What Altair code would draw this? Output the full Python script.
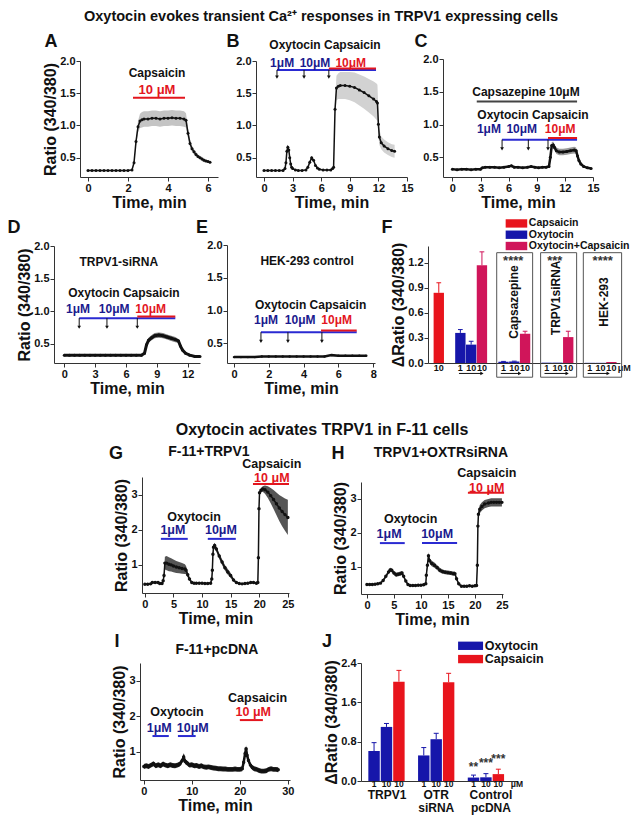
import altair as alt
import pandas as pd

FONT = "Liberation Sans"
INK = "#111111"
RED = "#e3161e"
BLUE_LINE = "#2a2ad2"
BLUE_TXT = "#1a1a8e"
BAR_RED = "#e8141c"
BAR_BLUE = "#1616aa"
BAR_CRIMSON = "#d0155a"
CW, CH = 626, 807  # whole drawing, pixels

# ---------------- Panel A ----------------
a_t = [0.0, 0.2, 0.4, 0.6, 0.8, 1.0, 1.2, 1.4, 1.6, 1.8, 2.0, 2.2,
       2.3, 2.4, 2.5, 2.6, 2.7, 2.8,
       3.0, 3.2, 3.4, 3.6, 3.8, 4.0, 4.2, 4.4, 4.6, 4.8,
       4.9, 5.0, 5.1, 5.2, 5.3, 5.4, 5.5, 5.6, 5.7, 5.8, 5.9, 6.0, 6.1]
a_v = [0.30, 0.30, 0.30, 0.30, 0.30, 0.30, 0.30, 0.30, 0.30, 0.30, 0.30, 0.31,
       0.42, 0.75, 0.98, 1.07, 1.09, 1.10,
       1.10, 1.11, 1.11, 1.10, 1.11, 1.11, 1.12, 1.11, 1.11, 1.10,
       1.08, 0.88, 0.72, 0.64, 0.59, 0.55, 0.52, 0.50, 0.48, 0.46, 0.45, 0.44, 0.43]
a_e = [0.01, 0.01, 0.01, 0.01, 0.01, 0.01, 0.01, 0.01, 0.01, 0.01, 0.01, 0.01,
       0.03, 0.06, 0.09, 0.11, 0.12, 0.12,
       0.12, 0.12, 0.12, 0.12, 0.12, 0.12, 0.12, 0.12, 0.12, 0.12,
       0.11, 0.08, 0.06, 0.05, 0.04, 0.04, 0.03, 0.03, 0.03, 0.03, 0.02, 0.02, 0.02]

# ---------------- Panel B ----------------
b_t = [0.0, 0.4, 0.8, 1.2, 1.6, 2.0,
       2.2, 2.3, 2.4, 2.5, 2.6, 2.7, 2.8, 2.9, 3.0,
       3.3, 3.6, 4.0, 4.4, 4.6, 4.8, 5.0, 5.2, 5.4, 5.6, 5.8, 6.2, 6.6, 7.0, 7.2, 7.3,
       7.45, 7.6, 7.8, 8.0, 8.5, 9.0, 9.5, 10.0, 10.5, 11.0, 11.5, 11.8, 11.9,
       12.0, 12.1, 12.3, 12.6, 13.0, 13.4, 13.7]
b_v = [0.30, 0.30, 0.30, 0.30, 0.30, 0.30,
       0.33, 0.42, 0.60, 0.66, 0.62, 0.50, 0.40, 0.35, 0.33,
       0.31, 0.30, 0.30, 0.31, 0.35, 0.43, 0.50, 0.46, 0.38, 0.34, 0.32, 0.31, 0.31, 0.31, 0.33, 0.35,
       1.25, 1.58, 1.61, 1.62, 1.62, 1.61, 1.59, 1.55, 1.51, 1.46, 1.41, 1.37, 1.35,
       1.02, 0.82, 0.73, 0.68, 0.64, 0.61, 0.60]
b_e = [0.01, 0.01, 0.01, 0.01, 0.01, 0.01,
       0.01, 0.03, 0.05, 0.05, 0.05, 0.04, 0.03, 0.02, 0.01,
       0.01, 0.01, 0.01, 0.01, 0.02, 0.03, 0.03, 0.03, 0.02, 0.01, 0.01, 0.01, 0.01, 0.01, 0.02, 0.02,
       0.10, 0.19, 0.20, 0.21, 0.21, 0.22, 0.23, 0.24, 0.25, 0.26, 0.27, 0.28, 0.28,
       0.20, 0.12, 0.10, 0.10, 0.10, 0.10, 0.10]

# ---------------- Panel C ----------------
c_t = [0.0, 0.5, 1.0, 1.5, 2.0, 2.5, 3.0,
       3.2, 3.5, 4.0, 4.5, 5.0, 5.5, 6.0, 6.3, 6.6, 7.0, 7.5, 8.0, 8.4, 8.8, 9.2, 9.6, 10.0, 10.3,
       10.45, 10.6, 10.75, 10.9, 11.1, 11.4, 11.8, 12.2, 12.6, 13.0, 13.2, 13.35, 13.5, 13.7, 14.0, 14.4, 14.8]
c_v = [0.32, 0.31, 0.32, 0.32, 0.31, 0.32, 0.32,
       0.34, 0.35, 0.35, 0.35, 0.34, 0.35, 0.36, 0.37, 0.35, 0.35, 0.34, 0.35, 0.36, 0.35, 0.34, 0.35, 0.35, 0.36,
       0.50, 0.68, 0.69, 0.65, 0.60, 0.58, 0.58, 0.59, 0.60, 0.61, 0.60, 0.52, 0.45, 0.40, 0.36, 0.34, 0.33]
c_e = [0.01, 0.01, 0.01, 0.01, 0.01, 0.01, 0.01,
       0.01, 0.01, 0.01, 0.01, 0.01, 0.01, 0.01, 0.01, 0.01, 0.01, 0.01, 0.01, 0.01, 0.01, 0.01, 0.01, 0.01, 0.01,
       0.04, 0.05, 0.05, 0.05, 0.05, 0.05, 0.05, 0.05, 0.05, 0.05, 0.05, 0.04, 0.03, 0.02, 0.02, 0.01, 0.01]

# ---------------- Panel D ----------------
d_t = [0.0, 0.5, 1.0, 1.5, 2.0, 2.5, 3.0, 3.5, 4.0, 4.5, 5.0, 5.5, 6.0, 6.5, 7.0, 7.5,
       7.8, 8.0, 8.2, 8.5, 8.8, 9.2, 9.6, 10.0, 10.4, 10.8, 11.1, 11.3, 11.5, 11.8, 12.2, 12.7, 13.2]
d_v = [0.32, 0.32, 0.32, 0.32, 0.32, 0.32, 0.32, 0.32, 0.32, 0.32, 0.32, 0.32, 0.32, 0.32, 0.32, 0.32,
       0.35, 0.48, 0.55, 0.59, 0.62, 0.63, 0.62, 0.60, 0.58, 0.56, 0.54, 0.46, 0.40, 0.35, 0.32, 0.30, 0.30]
d_e = [0.005, 0.005, 0.005, 0.005, 0.005, 0.005, 0.005, 0.005, 0.005, 0.005, 0.005, 0.005, 0.005, 0.005, 0.005, 0.005,
       0.01, 0.03, 0.04, 0.04, 0.04, 0.04, 0.04, 0.04, 0.04, 0.04, 0.03, 0.03, 0.02, 0.01, 0.01, 0.005, 0.005]

# ---------------- Panel E ----------------
e_t = [0.0, 0.4, 0.8, 1.2, 1.6, 2.0, 2.4, 2.8, 3.2, 3.6, 4.0, 4.4, 4.8, 5.2, 5.6, 6.0, 6.4, 6.8, 7.2, 7.6]
e_v = [0.29, 0.29, 0.29, 0.29, 0.30, 0.30, 0.30, 0.30, 0.30, 0.30, 0.30, 0.30, 0.30, 0.30, 0.32, 0.31, 0.31, 0.31, 0.31, 0.31]
e_e = [0.005, 0.005, 0.005, 0.005, 0.005, 0.005, 0.005, 0.005, 0.005, 0.005,
       0.005, 0.005, 0.005, 0.005, 0.005, 0.005, 0.005, 0.005, 0.005, 0.005]

# ---------------- Panel G ----------------
g_t = [0.0, 0.5, 1.0, 1.3, 1.8, 2.3, 2.6, 3.0, 3.2, 3.35,
       3.5, 3.8, 4.2, 4.6, 5.0, 5.5, 6.0, 6.5, 7.0, 7.2,
       7.5, 7.8, 8.2, 8.6, 9.0, 9.5, 10.0, 10.5, 11.0, 11.5,
       11.7, 11.8, 11.9, 12.0, 12.2, 12.5, 13.0, 13.5, 14.0, 14.5,
       15.0, 15.5, 16.0, 16.5, 17.0, 17.5, 18.0, 18.5, 19.0, 19.5,
       19.75, 19.85, 19.95, 20.05, 20.3, 20.6, 21.0, 21.5, 22.0, 22.5,
       23.0, 23.5, 24.0, 24.5, 25.0]
g_v = [0.45, 0.45, 0.46, 0.50, 0.50, 0.50, 0.47, 0.47, 0.55, 0.70,
       1.05, 1.05, 1.02, 1.00, 0.97, 0.94, 0.92, 0.90, 0.88, 0.85,
       0.72, 0.60, 0.50, 0.48, 0.48, 0.48, 0.48, 0.47, 0.47, 0.48,
       0.60, 0.85, 1.30, 1.50, 1.55, 1.45, 1.25, 1.08, 0.92, 0.80,
       0.70, 0.57, 0.50, 0.47, 0.46, 0.47, 0.48, 0.50, 0.50, 0.48,
       0.50, 1.20, 2.60, 3.05, 3.12, 3.16, 3.14, 3.07, 2.97, 2.86,
       2.74, 2.62, 2.52, 2.43, 2.35]
g_e = [0.02, 0.02, 0.02, 0.02, 0.02, 0.02, 0.02, 0.02, 0.05, 0.10,
       0.18, 0.20, 0.20, 0.19, 0.18, 0.17, 0.16, 0.15, 0.14, 0.12,
       0.08, 0.05, 0.03, 0.02, 0.02, 0.02, 0.02, 0.02, 0.02, 0.02,
       0.05, 0.08, 0.08, 0.08, 0.08, 0.08, 0.08, 0.08, 0.08, 0.08,
       0.07, 0.05, 0.03, 0.02, 0.02, 0.02, 0.02, 0.02, 0.02, 0.02,
       0.02, 0.05, 0.06, 0.06, 0.06, 0.08, 0.12, 0.17, 0.22, 0.27,
       0.32, 0.37, 0.42, 0.46, 0.50]

# ---------------- Panel H ----------------
h_t = [0.0, 0.5, 1.0, 1.5, 2.0, 2.5, 3.0, 3.5, 4.0, 4.3,
       4.6, 5.0, 5.4, 5.8, 6.2, 6.5, 6.8, 7.2, 7.6, 8.0,
       8.5, 9.0, 9.5, 10.0, 10.5, 10.9, 11.0, 11.2, 11.4, 11.6,
       12.0, 12.5, 13.0, 13.5, 14.0, 14.5, 15.0, 15.5, 16.0, 16.3,
       16.6, 17.0, 17.5, 18.0, 18.5, 19.0, 19.5, 20.0, 20.3, 20.45,
       20.55, 20.65, 20.9, 21.3, 21.8, 22.5, 23.0, 23.5, 24.0, 24.5,
       25.0]
h_v = [0.48, 0.48, 0.48, 0.49, 0.50, 0.52, 0.60, 0.72, 0.85, 0.91,
       0.90, 0.82, 0.77, 0.78, 0.80, 0.82, 0.72, 0.58, 0.48, 0.45,
       0.45, 0.45, 0.46, 0.46, 0.47, 0.50, 0.75, 1.05, 1.33, 1.18,
       1.10, 1.05, 0.98, 0.90, 0.86, 0.84, 0.83, 0.82, 0.80, 0.80,
       0.65, 0.50, 0.43, 0.43, 0.43, 0.44, 0.43, 0.44, 0.45, 1.05,
       2.20, 2.55, 2.70, 2.78, 2.85, 2.88, 2.90, 2.90, 2.90, 2.90,
       2.90]
h_e = [0.02, 0.02, 0.02, 0.02, 0.02, 0.02, 0.04, 0.05, 0.06, 0.06,
       0.06, 0.06, 0.06, 0.06, 0.06, 0.06, 0.05, 0.04, 0.03, 0.02,
       0.02, 0.02, 0.02, 0.02, 0.02, 0.03, 0.05, 0.08, 0.10, 0.08,
       0.08, 0.08, 0.07, 0.07, 0.06, 0.06, 0.06, 0.06, 0.06, 0.06,
       0.05, 0.04, 0.03, 0.03, 0.03, 0.03, 0.03, 0.03, 0.03, 0.05,
       0.10, 0.12, 0.12, 0.12, 0.12, 0.12, 0.12, 0.12, 0.12, 0.12,
       0.12]

# ---------------- Panel I ----------------
i_t = [0.0, 0.5, 1.0, 1.5, 2.0, 2.5, 3.0, 3.5, 4.0, 4.5,
       5.0, 5.5, 6.0, 6.5, 7.0, 7.5, 8.0, 8.3, 8.6, 9.0,
       9.5, 10.0, 10.5, 11.0, 11.5, 12.0, 12.5, 13.0, 13.5, 14.0,
       14.5, 15.0, 15.5, 16.0, 16.5, 17.0, 17.5, 18.0, 18.5, 19.0,
       19.5, 20.0, 20.5, 20.8, 21.1, 21.3, 21.5, 21.8, 22.2, 22.6,
       23.0, 23.5, 24.0, 24.5, 25.0, 25.5, 26.0, 26.5, 27.0, 27.5,
       28.0]
i_v = [0.58, 0.60, 0.58, 0.62, 0.66, 0.60, 0.63, 0.60, 0.65, 0.62,
       0.60, 0.63, 0.61, 0.60, 0.62, 0.65, 0.75, 0.85, 0.72, 0.68,
       0.62, 0.63, 0.60, 0.61, 0.58, 0.60, 0.57, 0.56, 0.57, 0.55,
       0.54, 0.53, 0.52, 0.52, 0.51, 0.51, 0.50, 0.50, 0.50, 0.51,
       0.50, 0.50, 0.52, 0.70, 0.95, 1.08, 0.90, 0.75, 0.62, 0.55,
       0.52, 0.50, 0.47, 0.45, 0.45, 0.46, 0.50, 0.52, 0.50, 0.50,
       0.49]
i_e = [0.07, 0.07, 0.07, 0.07, 0.07, 0.07, 0.07, 0.07, 0.07, 0.07,
       0.07, 0.07, 0.07, 0.07, 0.07, 0.07, 0.07, 0.07, 0.07, 0.07,
       0.07, 0.07, 0.07, 0.07, 0.07, 0.07, 0.07, 0.07, 0.07, 0.07,
       0.07, 0.07, 0.07, 0.07, 0.07, 0.07, 0.07, 0.07, 0.07, 0.07,
       0.07, 0.07, 0.07, 0.07, 0.08, 0.09, 0.08, 0.07, 0.07, 0.07,
       0.07, 0.07, 0.07, 0.07, 0.07, 0.07, 0.07, 0.07, 0.07, 0.07,
       0.07]

# ---------------- Panel F (bars) ----------------
f_pos = [0, 2, 3, 4, 6, 7, 8, 10, 11, 12, 14, 15, 16]
f_val = [0.84, 0.36, 0.22, 1.17, 0.015, 0.018, 0.35, 0.004, 0.004, 0.31, 0.002, 0.002, 0.012]
f_err = [0.12, 0.04, 0.04, 0.16, 0.004, 0.004, 0.03, 0.0, 0.0, 0.07, 0.0, 0.0, 0.0]
f_grp = ["Capsaicin", "Oxytocin", "Oxytocin", "Oxytocin+Capsaicin",
         "Oxytocin", "Oxytocin", "Oxytocin+Capsaicin",
         "Oxytocin", "Oxytocin", "Oxytocin+Capsaicin",
         "Oxytocin", "Oxytocin", "Oxytocin+Capsaicin"]
f_dose = ["10", "1", "10", "10", "1", "10", "10", "1", "10", "10", "1", "10", "10"]
f_legend = ["Capsaicin", "Oxytocin", "Oxytocin+Capsaicin"]
f_box_names = ["Capsazepine", "TRPV1siRNA", "HEK-293"]
f_box_stars = ["****", "***", "****"]

# ---------------- Panel J (bars) ----------------
j_pos = [0, 1, 2, 4, 5, 6, 8, 9, 10]
j_val = [0.61, 1.10, 2.02, 0.52, 0.85, 2.01, 0.07, 0.075, 0.14]
j_err = [0.17, 0.07, 0.23, 0.16, 0.12, 0.18, 0.05, 0.075, 0.10]
j_grp = ["Oxytocin", "Oxytocin", "Capsaicin", "Oxytocin", "Oxytocin", "Capsaicin",
         "Oxytocin", "Oxytocin", "Capsaicin"]
j_dose = ["1", "10", "10", "1", "10", "10", "1", "10", "10"]
j_stars = ["**", "***", "***"]
j_groups = [["TRPV1"], ["OTR", "siRNA"], ["Control", "pcDNA"]]
j_legend = ["Oxytocin", "Capsaicin"]

GROUP_COLOR = {"Capsaicin": BAR_RED, "Oxytocin": BAR_BLUE, "Oxytocin+Capsaicin": BAR_CRIMSON}


def frame(rows, cols):
    return pd.DataFrame(rows, columns=cols)


def scales(xdom, ydom, xr, yr):
    xs = alt.Scale(domain=xdom, range=xr, nice=False, zero=False)
    ys = alt.Scale(domain=ydom, range=yr, nice=False, zero=False)
    return xs, ys


def trace_panel(t, v, e, xdom, ydom, xr, yr, xticks, yticks, yfmt, ytitle,
                band, lw, ps, texts, bars, arrows):
    df = frame([(a, b, b - c, b + c) for a, b, c in zip(t, v, e)], ["t", "v", "lo", "hi"])
    xs, ys = scales(xdom, ydom, xr, yr)
    xax = alt.Axis(values=xticks, title="Time, min", format="d", orient="bottom", offset=yr[0] - CH)
    yax = alt.Axis(values=yticks, format=yfmt, title=ytitle, orient="left", offset=-xr[0])

    def X(f):
        return alt.X(f, type="quantitative", scale=xs, axis=xax)

    def Y(f):
        return alt.Y(f, type="quantitative", scale=ys, axis=yax)

    layers = [
        alt.Chart(df).mark_area(color=band, opacity=1).encode(x=X("t"), y=Y("lo"), y2=alt.Y2("hi")),
        alt.Chart(df).mark_line(color=INK, strokeWidth=lw).encode(x=X("t"), y=Y("v")),
        alt.Chart(df).mark_circle(color=INK, opacity=1, size=ps).encode(x=X("t"), y=Y("v")),
    ]
    bdf = frame(bars, ["x1", "x2", "y", "color"])
    layers.append(alt.Chart(bdf).mark_rule(strokeWidth=2).encode(
        x=X("x1"), x2=alt.X2("x2"), y=Y("y"), color=alt.Color("color:N", scale=None)))
    if arrows:
        adf = frame(arrows, ["x", "y1", "y2"])
        layers.append(alt.Chart(adf).mark_rule(color=INK, strokeWidth=1).encode(
            x=X("x"), y=Y("y1"), y2=alt.Y2("y2")))
        layers.append(alt.Chart(adf).mark_point(shape="triangle-down", filled=True, color=INK,
                                                size=14, opacity=1).encode(x=X("x"), y=Y("y2")))
    tdf = frame(texts, ["label", "x", "y", "color", "size"])
    layers.append(alt.Chart(tdf).mark_text(font=FONT, fontWeight="bold", baseline="middle").encode(
        x=X("x"), y=Y("y"), text="label:N", color=alt.Color("color:N", scale=None),
        size=alt.Size("size:Q", scale=None)))
    return alt.layer(*layers)


# ---------------- trace panels (pixel ranges inside the drawing) ----------------
A = trace_panel(a_t, a_v, a_e, [-0.4, 6.5], [0.2, 2.0], [72, 210], [169, 53], [0, 2, 4, 6],
                [0.5, 1.0, 1.5, 2.0], ".1f", "Ratio (340/380)", "#c4c4c4", 1.5, 9,
                [("Capsaicin", 3.45, 1.81, INK, 12), ("10 μM", 3.45, 1.55, RED, 13)],
                [(2.25, 4.85, 1.43, RED)], [])
B = trace_panel(b_t, b_v, b_e, [-0.84, 15], [0.2, 2.0], [248, 399], [169, 53], [0, 3, 6, 9, 12, 15],
                [0.5, 1.0, 1.5, 2.0], ".1f", None, "#d2d2d2", 1.5, 9,
                [("Oxytocin Capsaicin", 6.4, 2.25, INK, 12), ("1μM", 1.9, 1.97, BLUE_TXT, 12),
                 ("10μM", 5.35, 1.97, BLUE_TXT, 12), ("10μM", 9.1, 1.97, RED, 12)],
                [(1.36, 11.75, 1.86, BLUE_LINE), (6.8, 11.75, 1.885, RED)],
                [(1.36, 1.86, 1.75), (4.2, 1.86, 1.75), (6.8, 1.86, 1.75)])
C = trace_panel(c_t, c_v, c_e, [-1, 15], [0.2, 2.0], [435, 585], [169, 51], [0, 3, 6, 9, 12, 15],
                [0.5, 1.0, 1.5, 2.0], ".1f", None, "#9a9a9a", 2.5, 9,
                [("Capsazepine 10μM", 7.85, 1.50, INK, 12), ("Oxytocin Capsaicin", 8.6, 1.15, INK, 12),
                 ("1μM", 3.9, 0.93, BLUE_TXT, 12), ("10μM", 7.4, 0.93, BLUE_TXT, 12), ("10μM", 11.5, 0.93, RED, 12)],
                [(2.6, 13.3, 1.35, "#444444"), (5.3, 13.3, 0.77, BLUE_LINE), (10.2, 13.3, 0.795, RED)],
                [(5.3, 0.77, 0.63), (8.1, 0.77, 0.63), (10.2, 0.77, 0.63)])
D = trace_panel(d_t, d_v, d_e, [-1, 13.2], [0.2, 2.0], [46, 192], [355, 238], [0, 3, 6, 9, 12],
                [0.5, 1.0, 1.5, 2.0], ".1f", "Ratio (340/380)", "#7a7a7a", 3, 9,
                [("TRPV1-siRNA", 5.3, 1.75, INK, 12), ("Oxytocin Capsaicin", 5.8, 1.28, INK, 12),
                 ("1μM", 1.33, 1.03, BLUE_TXT, 12), ("10μM", 4.85, 1.03, BLUE_TXT, 12), ("10μM", 8.4, 1.03, RED, 12)],
                [(1.45, 10.8, 0.89, BLUE_LINE), (7.1, 10.8, 0.915, RED)],
                [(1.45, 0.89, 0.75), (4.15, 0.89, 0.75), (7.1, 0.89, 0.75)])
E = trace_panel(e_t, e_v, e_e, [-0.4, 8.1], [0.2, 2.0], [219, 367], [355, 237], [0, 2, 4, 6, 8],
                [0.5, 1.0, 1.5, 2.0], ".1f", None, "#7a7a7a", 2.5, 6,
                [("HEK-293 control", 4.2, 1.75, INK, 12), ("Oxytocin Capsaicin", 4.4, 1.08, INK, 12),
                 ("1μM", 1.84, 0.86, BLUE_TXT, 12), ("10μM", 3.8, 0.86, BLUE_TXT, 12), ("10μM", 5.9, 0.86, RED, 12)],
                [(1.55, 7.05, 0.67, BLUE_LINE), (5.0, 7.05, 0.695, RED)],
                [(1.55, 0.67, 0.53), (3.1, 0.67, 0.53), (5.05, 0.67, 0.53)])
G = trace_panel(g_t, g_v, g_e, [-0.5, 25.2], [0.2, 3.5], [134, 281], [585, 469], [0, 5, 10, 15, 20, 25],
                [1, 2, 3], "d", "Ratio (340/380)", "#555555", 1.5, 12,
                [("F-11+TRPV1", 11.2, 4.21, INK, 14), ("Capsaicin", 22.2, 3.86, INK, 12.5),
                 ("10 μM", 22.2, 3.47, RED, 12.5), ("Oxytocin", 8.6, 2.37, INK, 12.5),
                 ("1μM", 4.9, 1.99, BLUE_TXT, 12.5), ("10μM", 13.3, 1.99, BLUE_TXT, 12.5)],
                [(18.9, 25.2, 3.30, RED), (2.8, 7.5, 1.74, BLUE_LINE), (11.0, 15.9, 1.74, BLUE_LINE)], [])
H = trace_panel(h_t, h_v, h_e, [-1.1, 25.2], [0.2, 3.5], [353, 495], [586, 474], [0, 5, 10, 15, 20, 25],
                [1, 2, 3], "d", "Ratio (340/380)", "#555555", 1.5, 12,
                [("TRPV1+OXTRsiRNA", 13.7, 4.36, INK, 14), ("Capsaicin", 22.2, 3.77, INK, 12.5),
                 ("10 μM", 22.2, 3.32, RED, 12.5), ("Oxytocin", 8.1, 2.42, INK, 12.5),
                 ("1μM", 4.1, 1.97, BLUE_TXT, 12.5), ("10μM", 13.0, 1.97, BLUE_TXT, 12.5)],
                [(18.7, 25.4, 3.18, RED), (2.4, 7.0, 1.70, BLUE_LINE), (10.2, 16.7, 1.70, BLUE_LINE)], [])
I = trace_panel(i_t, i_v, i_e, [-0.8, 30.45], [0.2, 3.5], [132, 282], [772, 655], [0, 10, 20, 30],
                [1, 2, 3], "d", "Ratio (340/380)", "#222222", 2.5, 12,
                [("F-11+pcDNA", 15.2, 3.87, INK, 14), ("Capsaicin", 23.7, 2.52, INK, 12.5),
                 ("10 μM", 22.8, 2.13, RED, 12.5), ("Oxytocin", 6.9, 2.12, INK, 12.5),
                 ("1μM", 3.2, 1.68, BLUE_TXT, 12.5), ("10μM", 10.2, 1.68, BLUE_TXT, 12.5)],
                [(20.0, 24.8, 1.89, RED), (1.8, 5.2, 1.44, BLUE_LINE), (7.1, 10.8, 1.44, BLUE_LINE)], [])

# ---------------- Panel F ----------------
F_XR, F_YR = [420, 612], [355, 238]
fxs, fys = scales([-1, 16.8], [0, 1.4], F_XR, F_YR)
fxa = alt.Axis(labels=False, ticks=False, title=None, orient="bottom", offset=F_YR[0] - CH)
fya = alt.Axis(values=[0, 0.3, 0.6, 0.9, 1.2], format=".1f", title="ΔRatio (340/380)",
               orient="left", offset=-F_XR[0])


def FX(f):
    return alt.X(f, type="quantitative", scale=fxs, axis=fxa)


def FY(f):
    return alt.Y(f, type="quantitative", scale=fys, axis=fya)


fdf = frame([(p, v, e, g, d) for p, v, e, g, d in zip(f_pos, f_val, f_err, f_grp, f_dose)],
            ["pos", "val", "err", "grp", "dose"])
fdf["x1"] = fdf["pos"] - 0.48
fdf["x2"] = fdf["pos"] + 0.48
fdf["c1"] = fdf["pos"] - 0.22
fdf["c2"] = fdf["pos"] + 0.22
fdf["top"] = fdf["val"] + fdf["err"]
fdf["zero"] = 0.0
fdf["ly"] = -0.055
fdf["color"] = fdf["grp"].map(GROUP_COLOR)
ferr = fdf[fdf["err"] > 0]

fbox = frame([(5.37, 8.7, f_box_names[0], f_box_stars[0], 6.95, 0.73, 6.9),
              (9.44, 12.78, f_box_names[1], f_box_stars[1], 10.9, 0.78, 10.75),
              (13.4, 16.95, f_box_names[2], f_box_stars[2], 15.3, 0.73, 15.2)],
             ["x1", "x2", "name", "stars", "lx", "ly", "sx"])
fbox["y1"] = -0.17
fbox["y2"] = 1.32
fbox["sy"] = 1.22
farr = frame([(1.87, 4.0), (5.75, 7.5), (9.8, 11.9), (13.8, 15.7)], ["a1", "a2"])
farr["y"] = -0.125
fleg = frame([(name, GROUP_COLOR[name], yy) for name, yy in zip(f_legend, [1.67, 1.535, 1.40])],
             ["name", "color", "y"])
fleg["s1"] = 6.2
fleg["s2"] = 8.2
fleg["ya"] = fleg["y"] - 0.05
fleg["yb"] = fleg["y"] + 0.05
fleg["tx"] = 8.35
funit = frame([("μM", 16.6, -0.055)], ["t", "x", "y"])

F = alt.layer(
    alt.Chart(fdf).mark_rect().encode(x=FX("x1"), x2=alt.X2("x2"), y=FY("zero"), y2=alt.Y2("val"),
                                      color=alt.Color("color:N", scale=None)),
    alt.Chart(ferr).mark_rule(strokeWidth=1).encode(x=FX("pos"), y=FY("val"), y2=alt.Y2("top"),
                                                    color=alt.Color("color:N", scale=None)),
    alt.Chart(ferr).mark_rule(strokeWidth=1).encode(x=FX("c1"), x2=alt.X2("c2"), y=FY("top"),
                                                    color=alt.Color("color:N", scale=None)),
    alt.Chart(fdf).mark_text(font=FONT, fontWeight="bold", fontSize=9, color=INK).encode(
        x=FX("pos"), y=FY("ly"), text="dose:N"),
    alt.Chart(funit).mark_text(font=FONT, fontWeight="bold", fontSize=9, color=INK, align="left").encode(
        x=FX("x"), y=FY("y"), text="t:N"),
    alt.Chart(fbox).mark_rect(fill="white", fillOpacity=0, stroke="#555555", strokeWidth=1).encode(
        x=FX("x1"), x2=alt.X2("x2"), y=FY("y1"), y2=alt.Y2("y2")),
    alt.Chart(fbox).mark_text(font=FONT, fontWeight="bold", fontSize=12, angle=270, color=INK).encode(
        x=FX("lx"), y=FY("ly"), text="name:N"),
    alt.Chart(fbox).mark_text(font=FONT, fontWeight="bold", fontSize=13, color="#333333").encode(
        x=FX("sx"), y=FY("sy"), text="stars:N"),
    alt.Chart(farr).mark_rule(strokeWidth=1, color=INK).encode(x=FX("a1"), x2=alt.X2("a2"), y=FY("y")),
    alt.Chart(farr).mark_point(shape="triangle-right", filled=True, size=14, opacity=1, color=INK).encode(
        x=FX("a2"), y=FY("y")),
    alt.Chart(fleg).mark_rect().encode(x=FX("s1"), x2=alt.X2("s2"), y=FY("ya"), y2=alt.Y2("yb"),
                                       color=alt.Color("color:N", scale=None)),
    alt.Chart(fleg).mark_text(font=FONT, fontWeight="bold", fontSize=10.5, color=INK, align="left").encode(
        x=FX("tx"), y=FY("y"), text="name:N"),
)

# ---------------- Panel J ----------------
J_XR, J_YR = [353, 509], [773, 655]
jxs, jys = scales([-1.05, 11.5], [0, 2.4], J_XR, J_YR)
jxa = alt.Axis(labels=False, ticks=False, title=None, orient="bottom", offset=J_YR[0] - CH)
jya = alt.Axis(values=[0, 0.8, 1.6, 2.4], format=".1f", title="ΔRatio (340/380)",
               orient="left", offset=-J_XR[0])


def JX(f):
    return alt.X(f, type="quantitative", scale=jxs, axis=jxa)


def JY(f):
    return alt.Y(f, type="quantitative", scale=jys, axis=jya)


jdf = frame([(p, v, e, g, d) for p, v, e, g, d in zip(j_pos, j_val, j_err, j_grp, j_dose)],
            ["pos", "val", "err", "grp", "dose"])
jdf["x1"] = jdf["pos"] - 0.46
jdf["x2"] = jdf["pos"] + 0.46
jdf["c1"] = jdf["pos"] - 0.2
jdf["c2"] = jdf["pos"] + 0.2
jdf["top"] = jdf["val"] + jdf["err"]
jdf["zero"] = 0.0
jdf["ly"] = -0.055
jdf["color"] = jdf["grp"].map(GROUP_COLOR)
jstar = frame([(s, x, y) for s, x, y in zip(j_stars, [8.0, 9.0, 10.0], [0.29, 0.36, 0.45])], ["s", "x", "y"])
jlab = frame([(lines[0], x, -0.29) for lines, x in zip(j_groups, [1.05, 5.0, 9.4])] +
             [(lines[1], x, -0.54) for lines, x in zip(j_groups, [1.05, 5.0, 9.4]) if len(lines) > 1],
             ["t", "x", "y"])
jleg = frame([(name, GROUP_COLOR[name], yy) for name, yy in zip(j_legend, [2.75, 2.48])], ["name", "color", "y"])
jleg["s1"] = 6.76
jleg["s2"] = 8.77
jleg["ya"] = jleg["y"] - 0.085
jleg["yb"] = jleg["y"] + 0.085
jleg["tx"] = 8.9
junit = frame([("μM", 11.0, -0.055)], ["t", "x", "y"])

J = alt.layer(
    alt.Chart(jdf).mark_rect().encode(x=JX("x1"), x2=alt.X2("x2"), y=JY("zero"), y2=alt.Y2("val"),
                                      color=alt.Color("color:N", scale=None)),
    alt.Chart(jdf).mark_rule(strokeWidth=1).encode(x=JX("pos"), y=JY("val"), y2=alt.Y2("top"),
                                                   color=alt.Color("color:N", scale=None)),
    alt.Chart(jdf).mark_rule(strokeWidth=1).encode(x=JX("c1"), x2=alt.X2("c2"), y=JY("top"),
                                                   color=alt.Color("color:N", scale=None)),
    alt.Chart(jdf).mark_text(font=FONT, fontWeight="bold", fontSize=8.5, color=INK).encode(
        x=JX("pos"), y=JY("ly"), text="dose:N"),
    alt.Chart(junit).mark_text(font=FONT, fontWeight="bold", fontSize=8.5, color=INK, align="left").encode(
        x=JX("x"), y=JY("y"), text="t:N"),
    alt.Chart(jstar).mark_text(font=FONT, fontWeight="bold", fontSize=12, color="#333333").encode(
        x=JX("x"), y=JY("y"), text="s:N"),
    alt.Chart(jlab).mark_text(font=FONT, fontWeight="bold", fontSize=12, color=INK).encode(
        x=JX("x"), y=JY("y"), text="t:N"),
    alt.Chart(jleg).mark_rect().encode(x=JX("s1"), x2=alt.X2("s2"), y=JY("ya"), y2=alt.Y2("yb"),
                                       color=alt.Color("color:N", scale=None)),
    alt.Chart(jleg).mark_text(font=FONT, fontWeight="bold", fontSize=12.5, color=INK, align="left").encode(
        x=JX("tx"), y=JY("y"), text="name:N"),
)

# ---------------- titles and panel letters (page layout, pixels) ----------------
labels = frame([
    ("Oxytocin evokes transient Ca²⁺ responses in TRPV1 expressing cells", 313, 9, 14.5),
    ("A", 43, 34, 18), ("B", 225, 34, 18), ("C", 413, 34, 18),
    ("D", 6, 220, 18), ("E", 194, 220, 18), ("F", 379, 220, 18),
    ("Oxytocin activates TRPV1 in F-11 cells", 314, 422, 16),
    ("G", 108, 446, 18), ("H", 330, 446, 18),
    ("I", 109, 634, 18), ("J", 319, 634, 18),
], ["label", "px", "py", "size"])
TXT = alt.Chart(labels).mark_text(font=FONT, fontWeight="bold", baseline="middle", color=INK).encode(
    x=alt.X("px:Q", scale=None, axis=None), y=alt.Y("py:Q", scale=None, axis=None),
    text="label:N", size=alt.Size("size:Q", scale=None))

chart = alt.layer(TXT, A, B, C, D, E, F, G, H, I, J).resolve_scale(
    x="independent", y="independent"
).resolve_axis(
    x="independent", y="independent"
).properties(
    width=CW, height=CH, padding=0, autosize=alt.AutoSizeParams(type="none")
).configure_view(stroke=None).configure_axis(
    labelFont=FONT, titleFont=FONT, labelFontSize=11, titleFontSize=16,
    labelFontWeight="bold", titleFontWeight="bold", labelColor=INK, titleColor=INK,
    domainColor="#333333", tickColor="#333333", tickSize=4, labelPadding=1, titlePadding=1,
    grid=False, labelFlush=False, labelOverlap=False
)

chart.save("out.html", embed_options={"renderer": "svg", "actions": False})
